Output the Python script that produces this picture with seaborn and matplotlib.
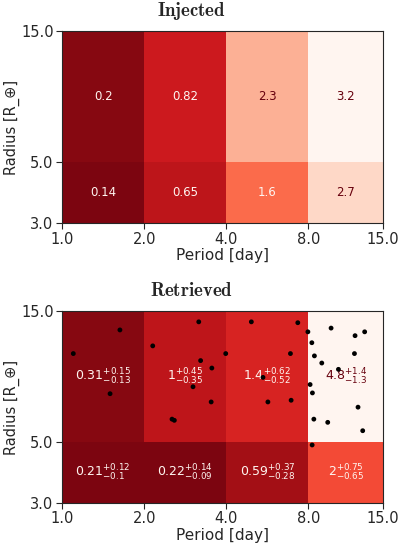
import numpy as np
import pandas as pd
import matplotlib
matplotlib.use("Agg")
import matplotlib.pyplot as plt
import seaborn as sns

sns.set_style("ticks")
plt.rcParams['font.family'] = ['DejaVu Sans']

# bin edges
period_edges = [1.0, 2.0, 4.0, 8.0, 15.0]
radius_edges = [3.0, 5.0, 15.0]

# occurrence values, rows = radius bins (low, high), cols = period bins
injected = np.array([[0.14, 0.65, 1.6, 2.7],
                     [0.2, 0.82, 2.3, 3.2]])
retrieved = np.array([[0.21, 0.22, 0.59, 2.0],
                      [0.31, 1.0, 1.4, 4.8]])
ret_up = [["0.12", "0.14", "0.37", "0.75"],
          ["0.15", "0.45", "0.62", "1.4"]]
ret_lo = [["0.1", "0.09", "0.28", "0.65"],
          ["0.13", "0.35", "0.52", "1.3"]]
ret_txt = [["0.21", "0.22", "0.59", "2"],
           ["0.31", "1", "1.4", "4.8"]]

# detected planets
det_period = [1.10, 1.63, 1.50, 2.15, 3.17, 3.22, 3.54, 3.02, 3.52, 2.53, 2.58,
              3.98, 4.94, 7.31, 5.45, 5.68, 6.87, 6.91, 7.96, 8.23, 8.41, 8.95,
              9.68, 10.3, 8.11, 8.27, 8.37, 9.41, 8.25, 11.85, 12.85, 11.79,
              12.15, 12.64]
det_radius = [10.5, 12.8, 7.5, 11.2, 13.7, 9.9, 9.3, 7.95, 7.0, 6.06, 6.0,
              10.5, 13.7, 13.6, 8.6, 7.0, 10.5, 7.1, 12.6, 11.5, 10.3, 9.7,
              13.0, 9.2, 8.1, 7.55, 6.06, 5.9, 4.88, 12.2, 12.6, 10.5,
              6.7, 5.5]
det = pd.DataFrame({"period": det_period, "radius": det_radius})

cmap = plt.get_cmap("Reds_r")

fig = plt.figure(figsize=(4.0, 5.47), dpi=100)
ax1 = fig.add_axes([0.155, 0.592, 0.8025, 0.351])
ax2 = fig.add_axes([0.155, 0.0804, 0.8025, 0.351])


def draw_grid(ax, vals, labels, fs):
    vmin, vmax = 0.0, vals.max()
    ax.pcolormesh(period_edges, radius_edges, vals, cmap=cmap, vmin=vmin, vmax=vmax)
    ax.set_xscale("log")
    ax.set_yscale("log")
    for i in range(len(radius_edges) - 1):
        yc = np.sqrt(radius_edges[i] * radius_edges[i + 1])
        for j in range(len(period_edges) - 1):
            xc = np.sqrt(period_edges[j] * period_edges[j + 1])
            frac = (vals[i, j] - vmin) / (vmax - vmin)
            col = cmap(0.0) if frac > 0.6 else cmap(1.0)
            ax.text(xc, yc, labels[i][j], ha="center", va="center",
                    color=col, fontsize=fs)
    ax.set_xlim(period_edges[0], period_edges[-1])
    ax.set_ylim(radius_edges[0], radius_edges[-1])
    ax.set_xticks(period_edges)
    ax.set_xticklabels([f"{p:.1f}" for p in period_edges])
    ax.set_yticks(radius_edges)
    ax.set_yticklabels([f"{r:.1f}" for r in radius_edges])
    ax.minorticks_off()
    ax.tick_params(labelsize=10.5, length=4.5, width=0.8, pad=1.5)
    ax.set_xlabel("Period [day]", fontsize=11, labelpad=1)
    ax.set_ylabel("Radius [R_\u2295]", fontsize=10.5, labelpad=1)


inj_labels = [[f"{v:g}" for v in row] for row in injected]
draw_grid(ax1, injected, inj_labels, 8.5)
fig.text(191 / 400, 1 - 16 / 547, r"$\mathbf{Injected}$", math_fontfamily="cm",
         fontsize=13.5, ha="center", va="baseline")

ret_labels = [[ret_txt[i][j] + "$^{+" + ret_up[i][j] + "}_{-" + ret_lo[i][j] + "}$"
               for j in range(4)] for i in range(2)]
draw_grid(ax2, retrieved, ret_labels, 9)
sns.scatterplot(data=det, x="period", y="radius", ax=ax2, color="black",
                s=12, edgecolor="none", zorder=5)
ax2.set_xlabel("Period [day]", fontsize=11, labelpad=1)
ax2.set_ylabel("Radius [R_\u2295]", fontsize=10.5, labelpad=1)
fig.text(191 / 400, 1 - 296 / 547, r"$\mathbf{Retrieved}$", math_fontfamily="cm",
         fontsize=13.5, ha="center", va="baseline")

fig.savefig("out.png", dpi=100)
